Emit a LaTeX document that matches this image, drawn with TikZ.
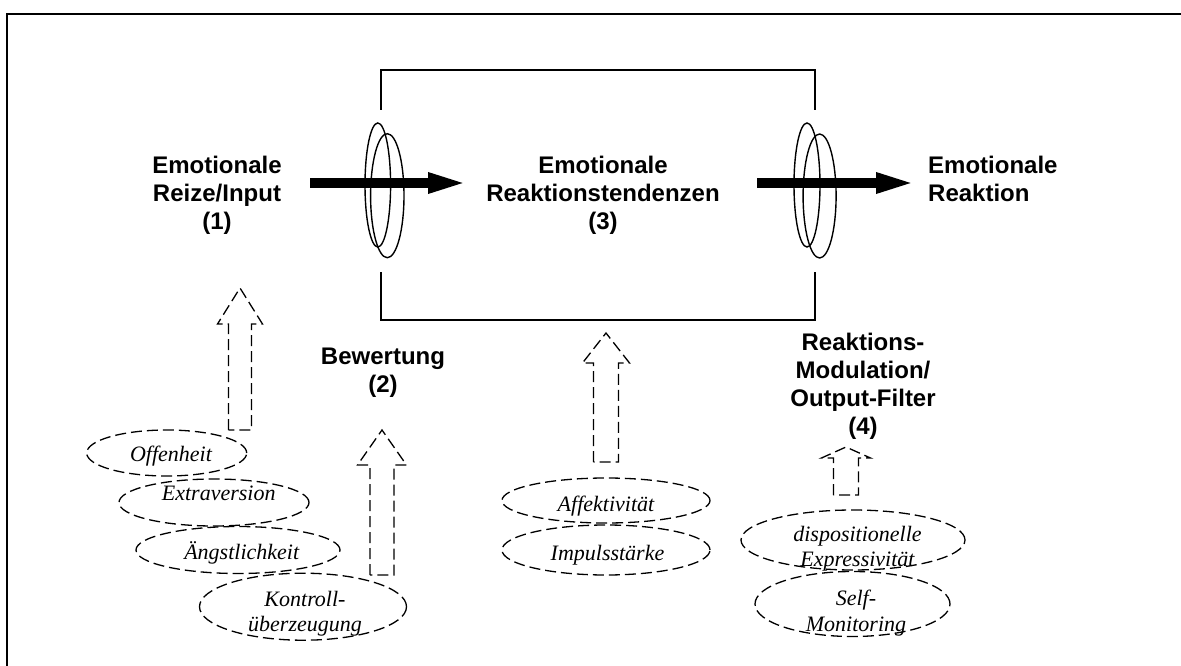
\documentclass[tikz,border=0pt]{standalone}
\usepackage{fontspec}
\setmainfont{Liberation Serif}
\newfontfamily\arialfont{Liberation Sans}
\usetikzlibrary{arrows.meta,shapes.geometric}
\newcommand\UpBlockArrow[6]{% cx, base, head base, tip, shaft width, head width
  \draw[dasharr] ({#1-#5/2},#2) -- ({#1-#5/2},#3) -- ({#1-#6/2},#3) -- (#1,#4)
    -- ({#1+#6/2},#3) -- ({#1+#5/2},#3) -- ({#1+#5/2},#2) -- cycle;}
\begin{document}
\begin{tikzpicture}[x=1pt,y=-1pt,
  boldtxt/.style={font=\arialfont\bfseries\fontsize{24}{28}\selectfont, align=center, inner sep=0pt},
  itxt/.style={font=\itshape\fontsize{22}{25.5}\selectfont, align=center, inner sep=0pt},
  dasharr/.style={line width=1.3pt, dash pattern=on 11pt off 5pt},
  trait/.style={ellipse, draw, line width=1.3pt, dash pattern=on 11pt off 5pt, inner sep=0pt},
  ring/.style={line width=1.4pt},
  bigarrow/.style={line width=10pt, -{Triangle[length=42pt,width=18pt]}},
  frame/.style={line width=2pt},
  boxline/.style={line width=1.3pt}]
\useasboundingbox (0,0) rectangle (1181,666);
\fill[white] (0,0) rectangle (1181,666);

% outer frame
\draw[frame] (7,666) -- (7,14) -- (1181,14);

% inner box
\draw[boxline] (381,110) -- (381,70) -- (815,70) -- (815,110);
\draw[boxline] (381,272) -- (381,320) -- (815,320) -- (815,272);

% rings
\draw[ring] (377.8,185) ellipse [x radius=12.8pt, y radius=62pt];
\draw[ring] (387.3,195.7) ellipse [x radius=16.7pt, y radius=62pt];
\draw[ring] (807,185) ellipse [x radius=13pt, y radius=62pt];
\draw[ring] (819.6,196) ellipse [x radius=16.5pt, y radius=62pt];

% main texts
\node[boldtxt, anchor=north] (input) at (217,155.8) {Emotionale\\Reize/Input\\(1)};
\node[boldtxt, anchor=north] (tend) at (603,155.8) {Emotionale\\Reaktionstendenzen\\(3)};
\node[boldtxt, anchor=north west, align=left] (reak) at (928,155.8) {Emotionale\\Reaktion};
\node[boldtxt, anchor=north] (bew) at (383,347.8) {Bewertung\\(2)};
\node[boldtxt, anchor=north] (filt) at (863,332.8) {Reaktions-\\Modulation/\\Output-Filter\\(4)};

% thick arrows
\coordinate (a1s) at (310,183);
\coordinate (a1e) at (470,183);
\coordinate (a2s) at (757,183);
\coordinate (a2e) at (918,183);
\draw[bigarrow] (a1s) -- (a1e);
\draw[bigarrow] (a2s) -- (a2e);

% dashed block arrows
\UpBlockArrow{240}{430}{324}{288}{23}{45}
\UpBlockArrow{382}{575}{465}{430}{24}{49}
\UpBlockArrow{606}{462}{363}{333}{25}{47}
\UpBlockArrow{846}{495}{458}{447}{25}{49}

% trait ellipses
\node[trait, minimum width=160pt, minimum height=46pt] (eOff) at (166.7,453) {};
\node[trait, minimum width=190pt, minimum height=47pt] (eExt) at (214,502.5) {};
\node[trait, minimum width=204pt, minimum height=47pt] (eAng) at (238,550) {};
\node[trait, minimum width=207pt, minimum height=67pt] (eKon) at (303,606.7) {};
\node[trait, minimum width=208pt, minimum height=45pt] (eAff) at (606,500.5) {};
\node[trait, minimum width=208pt, minimum height=50pt] (eImp) at (606,550) {};
\node[trait, minimum width=224pt, minimum height=60pt] (eDis) at (853,540) {};
\node[trait, minimum width=195pt, minimum height=65pt] (eSelf) at (852.5,604) {};

% trait labels
\node[itxt, anchor=base] (tOff) at (171,461.7) {Offenheit};
\node[itxt, anchor=base] (tExt) at (218.7,500) {Extraversion};
\node[itxt, anchor=base] (tAng) at (241.7,559) {Ängstlichkeit};
\node[itxt, anchor=north] (tKon) at (305,591) {Kontroll-\\überzeugung};
\node[itxt, anchor=base] (tAff) at (606,511.5) {Affektivität};
\node[itxt, anchor=base] (tImp) at (607.5,560) {Impulsstärke};
\node[itxt, anchor=north] (tDis) at (857.5,526) {dispositionelle\\Expressivität};
\node[itxt, anchor=north] (tSelf) at (856,590) {Self-\\Monitoring};
\end{tikzpicture}
\end{document}
